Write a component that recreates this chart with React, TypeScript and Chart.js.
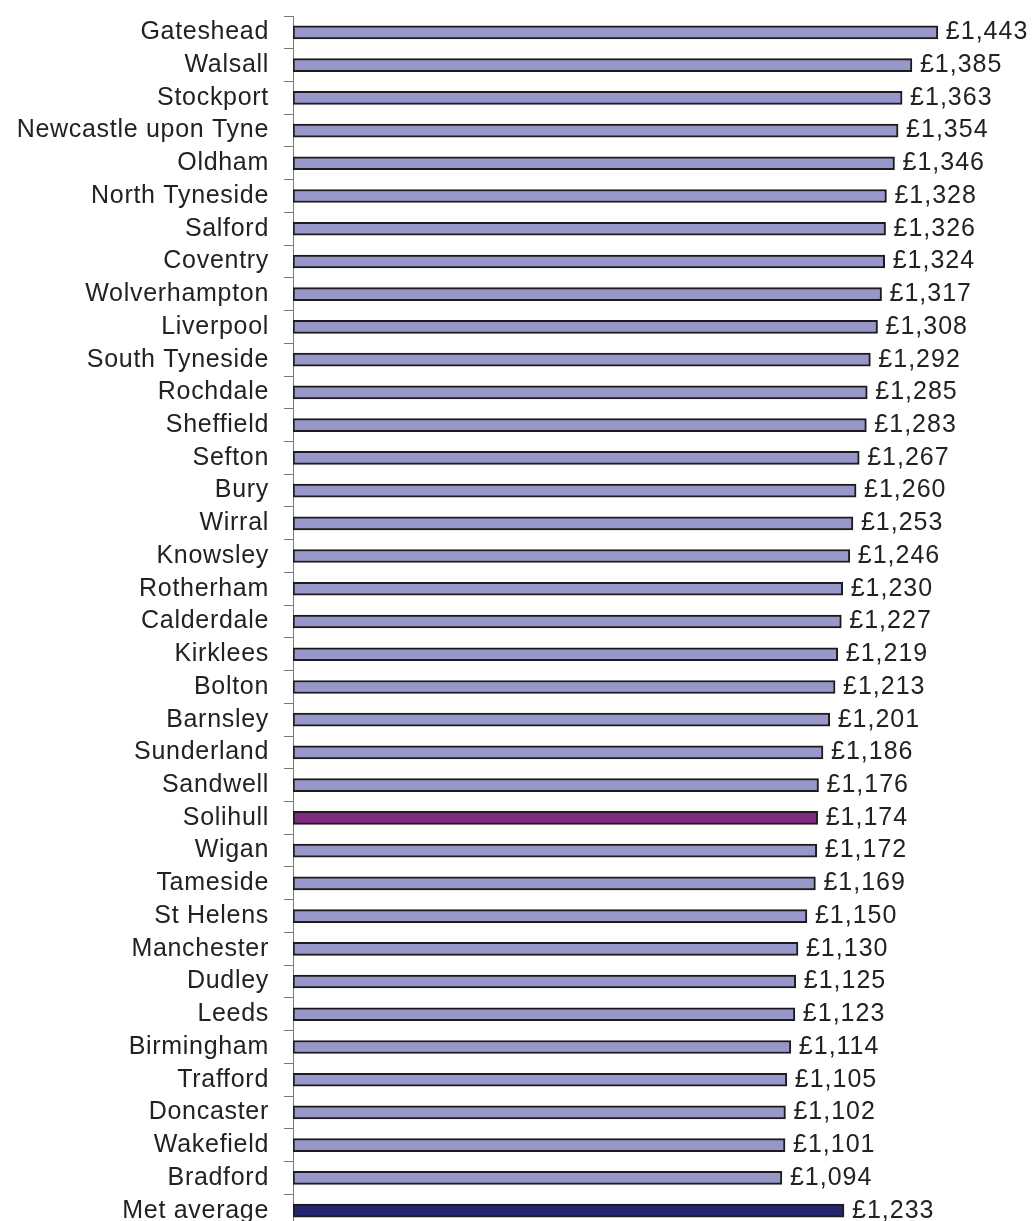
import React, { useEffect, useRef } from "react";
import { Chart, registerables } from "chart.js";

Chart.register(...registerables);

const categories: string[] = [
  "Gateshead", "Walsall", "Stockport", "Newcastle upon Tyne", "Oldham",
  "North Tyneside", "Salford", "Coventry", "Wolverhampton", "Liverpool",
  "South Tyneside", "Rochdale", "Sheffield", "Sefton", "Bury", "Wirral",
  "Knowsley", "Rotherham", "Calderdale", "Kirklees", "Bolton", "Barnsley",
  "Sunderland", "Sandwell", "Solihull", "Wigan", "Tameside", "St Helens",
  "Manchester", "Dudley", "Leeds", "Birmingham", "Trafford", "Doncaster",
  "Wakefield", "Bradford", "Met average",
];

const values: number[] = [
  1443, 1385, 1363, 1354, 1346, 1328, 1326, 1324, 1317, 1308,
  1292, 1285, 1283, 1267, 1260, 1253, 1246, 1230, 1227, 1219,
  1213, 1201, 1186, 1176, 1174, 1172, 1169, 1150, 1130, 1125,
  1123, 1114, 1105, 1102, 1101, 1094, 1233,
];

const highlightLocal = "Solihull";
const averageLabel = "Met average";

const FONT = "'Liberation Sans', Arial, Helvetica, sans-serif";

const formatValue = (v: number) => "£" + v.toLocaleString("en-GB");

export default function App() {
  const ref = useRef<HTMLCanvasElement | null>(null);

  useEffect(() => {
    const canvas = ref.current;
    if (!canvas) return;

    const colors = categories.map((c) =>
      c === highlightLocal ? "#7f2a7f" : c === averageLabel ? "#26266f" : "#9797ca"
    );

    const letterSpacingPlugin = {
      id: "letterSpacing",
      beforeDraw(chart: any) {
        (chart.ctx as any).letterSpacing = "0.7px";
      },
    };

    const valueLabels = {
      id: "valueLabels",
      afterDatasetsDraw(chart: any) {
        const ctx = chart.ctx;
        const meta = chart.getDatasetMeta(0);
        ctx.save();
        (ctx as any).letterSpacing = "1px";
        ctx.font = `25px ${FONT}`;
        ctx.fillStyle = "#222222";
        ctx.textAlign = "left";
        ctx.textBaseline = "middle";
        meta.data.forEach((bar: any, i: number) => {
          ctx.fillText(formatValue(values[i]), bar.x + 8, bar.y);
        });
        ctx.restore();
      },
    };

    const chart = new Chart(canvas, {
      type: "bar",
      data: {
        labels: categories,
        datasets: [
          {
            data: values,
            backgroundColor: colors,
            borderColor: "#1c1c1c",
            borderWidth: 2,
            borderSkipped: false,
            barThickness: 13,
          },
        ],
      },
      options: {
        indexAxis: "y",
        responsive: false,
        animation: false,
        layout: { padding: { top: 16, bottom: 13, left: 0, right: 25 } },
        plugins: {
          legend: { display: false },
          tooltip: { enabled: false },
        },
        scales: {
          x: {
            display: false,
            min: 0,
            max: 1600,
          },
          y: {
            offset: true,
            afterFit(scale: any) {
              scale.width = 293;
              scale.paddingTop = 0;
              scale.paddingBottom = 0;
            },
            grid: {
              offset: true,
              drawOnChartArea: false,
              drawTicks: true,
              tickLength: 9,
              color: "#7a7a7a",
              lineWidth: 1,
            },
            border: { display: true, color: "#7a7a7a", width: 1 },
            ticks: {
              padding: 15,
              color: "#222222",
              font: { family: FONT, size: 25 },
              autoSkip: false,
            },
          },
        },
      },
      plugins: [letterSpacingPlugin, valueLabels],
    } as any);

    return () => chart.destroy();
  }, []);

  return (
    <div
      style={{
        position: "absolute",
        left: 0,
        top: 0,
        width: 1033,
        height: 1221,
        overflow: "hidden",
        background: "#ffffff",
      }}
    >
      <canvas ref={ref} width={1033} height={1240} style={{ display: "block" }} />
    </div>
  );
}
